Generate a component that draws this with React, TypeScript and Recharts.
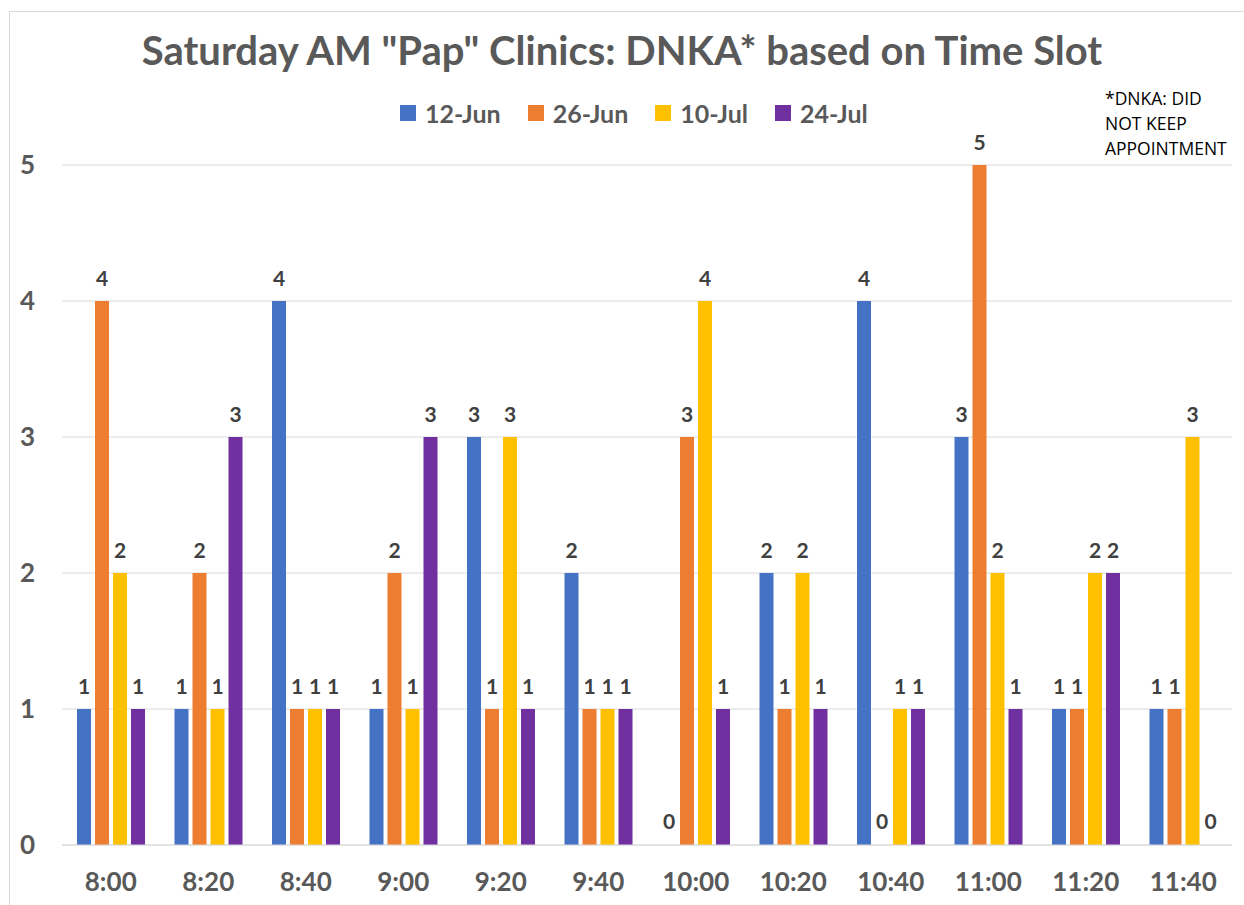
import { BarChart, Bar, XAxis, YAxis, CartesianGrid, LabelList } from 'recharts';

const timeSlots = ['8:00', '8:20', '8:40', '9:00', '9:20', '9:40', '10:00', '10:20', '10:40', '11:00', '11:20', '11:40'];
const jun12 = [1, 1, 4, 1, 3, 2, 0, 2, 4, 3, 1, 1];
const jun26 = [4, 2, 1, 2, 1, 1, 3, 1, 0, 5, 1, 1];
const jul10 = [2, 1, 1, 1, 3, 1, 4, 2, 1, 2, 2, 3];
const jul24 = [1, 3, 1, 3, 1, 1, 1, 1, 1, 1, 2, 0];
const yTicks = [0, 1, 2, 3, 4, 5];

const SERIES = [
  { key: 'jun12', name: '12-Jun', color: '#4472C4' },
  { key: 'jun26', name: '26-Jun', color: '#ED7D31' },
  { key: 'jul10', name: '10-Jul', color: '#FFC000' },
  { key: 'jul24', name: '24-Jul', color: '#7030A0' },
];

const data = timeSlots.map((slot, i) => ({
  slot,
  jun12: jun12[i],
  jun26: jun26[i],
  jul10: jul10[i],
  jul24: jul24[i],
}));

const FONT = 'Lato, "Open Sans", sans-serif';

// value label above each bar, drawn for zero-height bars too
const renderValue = (props: any) => {
  const { x, y, width, height, value } = props;
  const top = Math.min(Number(y), Number(y) + Number(height || 0));
  return (
    <text
      x={Number(x) + Number(width) / 2}
      y={top - 15}
      textAnchor="middle"
      fill="#404040"
      fontSize={21}
      fontWeight="bold"
      fontFamily={FONT}
    >
      {value}
    </text>
  );
};

// zero values get a 1px placeholder (so the label shows) but nothing is painted
const makeShape = (key: string) => (props: any) => {
  const { x, y, width, height, fill, payload } = props;
  if (!payload || payload[key] === 0) return <g />;
  return <rect x={x} y={y} width={width} height={height} fill={fill} />;
};

export default function App() {
  return (
    <div style={{ position: 'absolute', left: 0, top: 0, width: 1244, height: 905, background: '#fff', fontFamily: FONT }}>
      <div
        style={{
          position: 'absolute',
          left: 9,
          top: 11,
          width: 1240,
          height: 900,
          border: '1px solid #d9d9d9',
          boxSizing: 'border-box',
        }}
      />
      <div
        style={{
          position: 'absolute',
          left: 0,
          width: 1244,
          top: 26,
          textAlign: 'center',
          fontSize: 40,
          fontWeight: 'bold',
          color: '#595959',
        }}
      >
        Saturday AM "Pap" Clinics: DNKA* based on Time Slot
      </div>
      <div
        style={{
          position: 'absolute',
          left: 400,
          top: 98,
          height: 30,
          display: 'flex',
          alignItems: 'center',
          fontSize: 25,
          fontWeight: 'bold',
          color: '#595959',
        }}
      >
        {SERIES.map(s => (
          <div key={s.key} style={{ display: 'flex', alignItems: 'center', marginRight: 27 }}>
            <div style={{ width: 16, height: 16, background: s.color, marginRight: 9 }} />
            <span>{s.name}</span>
          </div>
        ))}
      </div>
      <div
        style={{
          position: 'absolute',
          left: 1105,
          top: 86,
          fontSize: 17.5,
          lineHeight: '25px',
          color: '#000',
          fontFamily: '"Open Sans", sans-serif',
        }}
      >
        *DNKA: DID
        <br />
        NOT KEEP
        <br />
        APPOINTMENT
      </div>
      <div style={{ position: 'absolute', left: 0, top: 0 }}>
        <BarChart
          width={1244}
          height={905}
          data={data}
          margin={{ top: 165, right: 12, bottom: 0, left: 0 }}
          barCategoryGap={15}
          barGap={4}
        >
          <CartesianGrid vertical={false} stroke="#d9d9d9" />
          <XAxis
            dataKey="slot"
            height={60}
            tickLine={false}
            axisLine={{ stroke: '#d9d9d9' }}
            tickMargin={22}
            tick={{ fill: '#595959', fontSize: 26, fontWeight: 'bold', fontFamily: FONT }}
            interval={0}
          />
          <YAxis
            width={62}
            domain={[0, 5]}
            ticks={yTicks}
            tickLine={false}
            axisLine={false}
            tickMargin={21}
            tick={{ fill: '#595959', fontSize: 26, fontWeight: 'bold', fontFamily: FONT }}
          />
          {SERIES.map(s => (
            <Bar
              key={s.key}
              dataKey={s.key}
              name={s.name}
              fill={s.color}
              minPointSize={1}
              shape={makeShape(s.key)}
              isAnimationActive={false}
            >
              <LabelList dataKey={s.key} content={renderValue} />
            </Bar>
          ))}
        </BarChart>
      </div>
    </div>
  );
}
